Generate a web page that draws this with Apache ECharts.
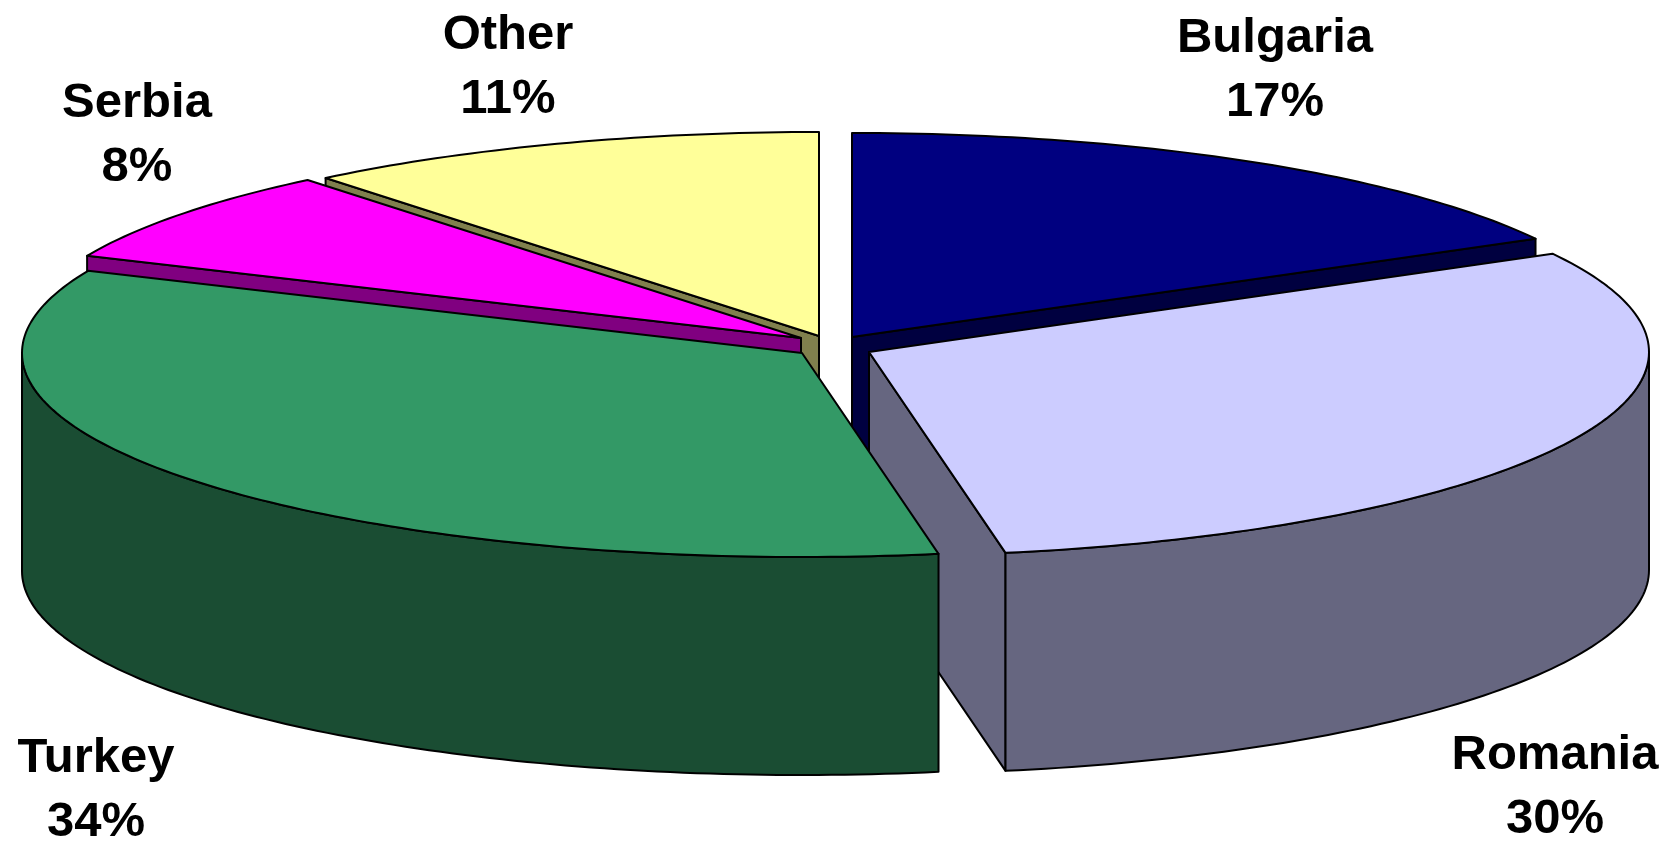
<!DOCTYPE html>
<html>
<head>
<meta charset="utf-8">
<title>Exploded 3D pie</title>
<script src="https://cdn.jsdelivr.net/npm/echarts@6/dist/echarts.min.js"></script>
<style>html,body{margin:0;padding:0;background:#fff}#chart{width:1668px;height:841px}</style>
</head>
<body>
<div id="chart"></div>
<script>
// Data (clockwise from 12 o'clock)
var categories = ['Bulgaria', 'Romania', 'Turkey', 'Serbia', 'Other'];
var shares = [17, 30.2, 34.4, 7.5, 10.9];
var topColors = ['#000080', '#CCCCFF', '#339966', '#FF00FF', '#FFFF99'];
var sideColors = ['#000040', '#666680', '#1A4D33', '#800080', '#80804D'];

// Layout only: painter's order, exploded centre of each slice, label anchors
var paintOrder = ['Bulgaria', 'Other', 'Serbia', 'Romania', 'Turkey'];
var centres = [[852, 337], [869, 352], [802, 353], [801, 338], [819, 336]];
var labelAnchors = [[1275, 38], [1555, 755], [96, 758], [137, 103], [508, 35]];
var RX = 780, RY = 204, DEPTH = 218, LINE_GAP = 64;
var FONT = 'bold 49px "Liberation Sans", Arial, sans-serif';

var total = shares.reduce(function (a, b) { return a + b; }, 0);

function rimPoint(c, deg, drop) {
  var r = deg * Math.PI / 180;
  return [c[0] + RX * Math.sin(r), c[1] - RY * Math.cos(r) + (drop || 0)];
}
function arc(c, a0, a1, drop) {
  var pts = [], n = Math.max(2, Math.ceil(Math.abs(a1 - a0)));
  for (var i = 0; i <= n; i++) pts.push(rimPoint(c, a0 + (a1 - a0) * i / n, drop));
  return pts;
}
function poly(points, fill, z2) {
  return {
    type: 'polygon', shape: { points: points }, z2: z2,
    style: { fill: fill, stroke: '#000', lineWidth: 2, lineJoin: 'round' }
  };
}
function cutFace(c, deg, fill, z2) {
  var p = rimPoint(c, deg);
  return poly([c, p, [p[0], p[1] + DEPTH], [c[0], c[1] + DEPTH]], fill, z2);
}
function label(text, x, y) {
  return {
    type: 'text', z2: 1000,
    style: { text: text, x: x, y: y, font: FONT, fill: '#000', align: 'center', verticalAlign: 'middle' }
  };
}

function renderSlice(params, api) {
  var i = params.dataIndex, value = api.value(0), before = 0;
  for (var k = 0; k < i; k++) before += shares[k];
  var a0 = before / total * 360, a1 = (before + value) / total * 360;
  var c = centres[i], z = (paintOrder.indexOf(categories[i]) + 1) * 10;
  var kids = [];

  // Flat cut faces that turn towards the viewer (the pie is seen from the south)
  if (a0 > 180 && a0 < 360) kids.push(cutFace(c, a0, sideColors[i], z));
  if (a1 > 0 && a1 < 180) kids.push(cutFace(c, a1, sideColors[i], z));
  // Outer wall: only the front half of the rim
  var w0 = Math.max(a0, 90), w1 = Math.min(a1, 270);
  if (w1 > w0) kids.push(poly(arc(c, w0, w1, 0).concat(arc(c, w1, w0, DEPTH)), sideColors[i], z + 1));
  // Top face
  kids.push(poly([c].concat(arc(c, a0, a1, 0)), topColors[i], z + 2));
  // Label
  var an = labelAnchors[i];
  kids.push(label(categories[i], an[0], an[1]));
  kids.push(label(Math.round(value) + '%', an[0], an[1] + LINE_GAP));
  return { type: 'group', children: kids };
}

var chart = echarts.init(document.getElementById('chart'), null, { renderer: 'canvas' });
chart.setOption({
  backgroundColor: '#fff',
  animation: false,
  series: [{
    type: 'custom',
    coordinateSystem: 'none',
    silent: true,
    renderItem: renderSlice,
    data: shares.map(function (v, i) { return { name: categories[i], value: [v] }; })
  }]
});
</script>
</body>
</html>
